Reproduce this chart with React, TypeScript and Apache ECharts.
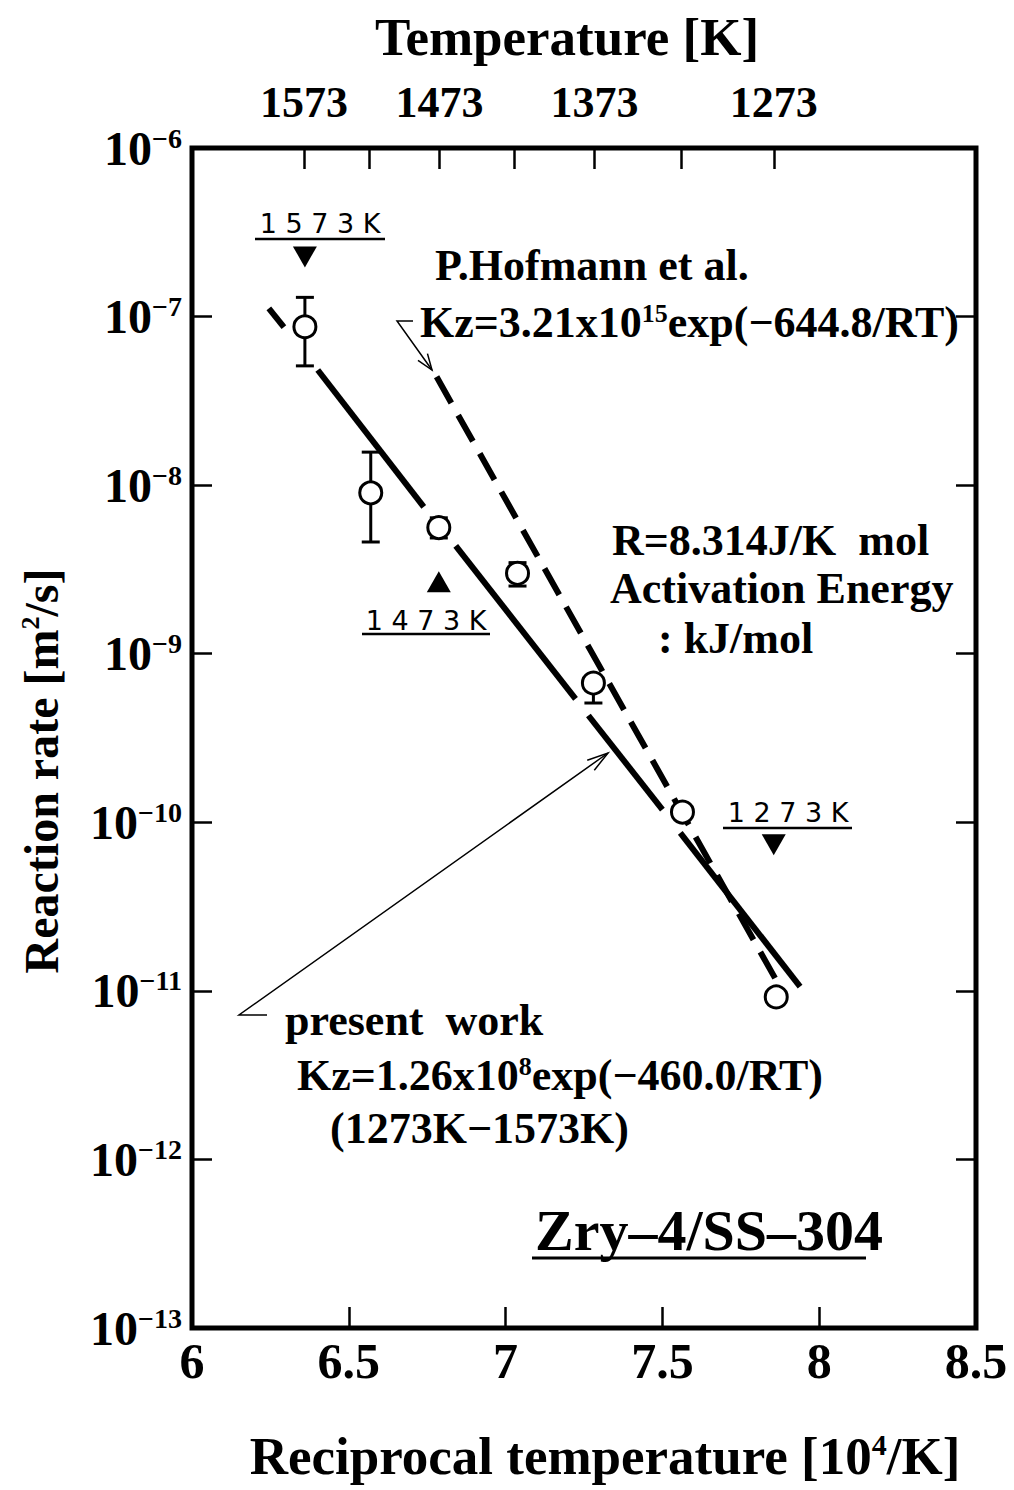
import React, { useEffect, useRef } from "react";
import * as echarts from "echarts";

// ---- data ----
// reciprocal temperature [10^4/K] and reaction rate [m^2/s] of measured points
const recipT = [6.36, 6.57, 6.787, 7.038, 7.28, 7.564, 7.863];
const rate = [8.7e-8, 9.0e-9, 5.6e-9, 3.0e-9, 6.7e-10, 1.15e-10, 9.2e-12];
const errHigh = [1.3e-7, 1.57e-8, 6.4e-9, 3.47e-9, null, null, null];
const errLow = [5.1e-8, 4.6e-9, 4.86e-9, 2.52e-9, 5.1e-10, null, null];

// triangles
const triDown = [
  [6.36, 2.26e-7],
  [7.855, 7.35e-11],
];
const triUp = [[6.787, 2.67e-9]];

// present work fit line (segments, broken around the markers)
const presentWorkSegments = [
  [[6.245, 1.12e-7], [6.293, 8.67e-8]],
  [[6.401, 4.82e-8], [6.739, 7.43e-9]],
  [[6.841, 4.36e-9], [7.223, 5.4e-10]],
  [[7.264, 4.3e-10], [7.5, 1.19e-10]],
  [[7.557, 8.65e-11], [7.939, 1.06e-11]],
];
// P.Hofmann et al. line
const hofmannLine = [[6.78, 4.39e-8], [7.866, 1.13e-11]];

// axis ticks
const tempTickK = [1573, 1523, 1473, 1423, 1373, 1323, 1273];
const tempLabelK = [1573, 1473, 1373, 1273];

const FONT = '"Liberation Serif", "Times New Roman", serif';
const SANS = '"DejaVu Sans", sans-serif';

function arrowHead(tip: number[], from: number[], len: number, ang: number) {
  const dx = tip[0] - from[0];
  const dy = tip[1] - from[1];
  const a = Math.atan2(dy, dx);
  const p1 = [tip[0] - len * Math.cos(a - ang), tip[1] - len * Math.sin(a - ang)];
  const p2 = [tip[0] - len * Math.cos(a + ang), tip[1] - len * Math.sin(a + ang)];
  return [p1, tip, p2];
}

function bold(size: number) {
  return { fontFamily: FONT, fontWeight: "bold", fontSize: size, fill: "#000" };
}

export default function App() {
  const ref = useRef<HTMLDivElement>(null);
  useEffect(() => {
    if (!ref.current) return;
    const chart = echarts.init(ref.current, null, { renderer: "svg" });

    const lineStyleTick = { color: "#000", width: 2.5 };
    const errorData = recipT
      .map((x, i) => [x, errLow[i] ?? rate[i], errHigh[i] ?? rate[i], rate[i]])
      .filter((d) => d[1] !== d[3] || d[2] !== d[3]);

    const supRich = (size: number) => ({
      sup: { fontFamily: FONT, fontWeight: "bold", fontSize: size, verticalAlign: "top", fill: "#000" },
    });

    const hofTip = [432, 370];
    const hofCorner = [397, 321];
    const pwTip = [608, 753];
    const pwCorner = [239, 1015];

    const graphic: any[] = [
      { type: "text", x: 567, y: 37, style: { text: "Temperature [K]", ...bold(53), align: "center", verticalAlign: "middle" } },
      {
        type: "text", x: 605, y: 1456,
        style: { text: "Reciprocal temperature [10{sup|4}/K]", ...bold(53), align: "center", verticalAlign: "middle", rich: supRich(30) },
      },
      {
        type: "text", x: 41, y: 771, rotation: Math.PI / 2,
        style: { text: "Reaction rate [m{sup|2}/s]", ...bold(48), align: "center", verticalAlign: "middle", rich: supRich(26) },
      },
      { type: "text", x: 435, y: 265, style: { text: "P.Hofmann et al.", ...bold(44), align: "left", verticalAlign: "middle" } },
      {
        type: "text", x: 420, y: 322,
        style: { text: "Kz=3.21x10{sup|15}exp(−644.8/RT)", ...bold(44), align: "left", verticalAlign: "middle", rich: supRich(26) },
      },
      { type: "text", x: 612, y: 540, style: { text: "R=8.314J/K  mol", ...bold(44), align: "left", verticalAlign: "middle" } },
      { type: "text", x: 610, y: 588, style: { text: "Activation Energy", ...bold(44), align: "left", verticalAlign: "middle" } },
      { type: "text", x: 658, y: 638, style: { text: ": kJ/mol", ...bold(44), align: "left", verticalAlign: "middle" } },
      { type: "text", x: 285, y: 1020, style: { text: "present  work", ...bold(44), align: "left", verticalAlign: "middle" } },
      {
        type: "text", x: 297, y: 1075,
        style: { text: "Kz=1.26x10{sup|8}exp(−460.0/RT)", ...bold(44), align: "left", verticalAlign: "middle", rich: supRich(26) },
      },
      { type: "text", x: 330, y: 1128, style: { text: "(1273K−1573K)", ...bold(44), align: "left", verticalAlign: "middle" } },
      { type: "text", x: 535, y: 1230, style: { text: "Zry–4/SS–304", ...bold(58), align: "left", verticalAlign: "middle" } },
      { type: "line", shape: { x1: 532, y1: 1258, x2: 866, y2: 1258 }, style: { stroke: "#000", lineWidth: 3 } },
      // temperature labels near triangles
      { type: "text", x: 320, y: 223, style: { text: "1 5 7 3 K", fontFamily: SANS, fontSize: 27, fill: "#000", align: "center", verticalAlign: "middle" } },
      { type: "line", shape: { x1: 255, y1: 239, x2: 385, y2: 239 }, style: { stroke: "#000", lineWidth: 2.5 } },
      { type: "text", x: 426, y: 620, style: { text: "1 4 7 3 K", fontFamily: SANS, fontSize: 27, fill: "#000", align: "center", verticalAlign: "middle" } },
      { type: "line", shape: { x1: 362, y1: 634, x2: 490, y2: 634 }, style: { stroke: "#000", lineWidth: 2.5 } },
      { type: "text", x: 788, y: 812, style: { text: "1 2 7 3 K", fontFamily: SANS, fontSize: 27, fill: "#000", align: "center", verticalAlign: "middle" } },
      { type: "line", shape: { x1: 723, y1: 828, x2: 852, y2: 828 }, style: { stroke: "#000", lineWidth: 2.5 } },
      // leaders
      { type: "polyline", shape: { points: [[413, 321], hofCorner, hofTip] }, style: { stroke: "#000", lineWidth: 1.5, fill: null } },
      { type: "polyline", shape: { points: arrowHead(hofTip, hofCorner, 17, 0.35) }, style: { stroke: "#000", lineWidth: 1.5, fill: null } },
      { type: "polyline", shape: { points: [[267, 1015], pwCorner, pwTip] }, style: { stroke: "#000", lineWidth: 1.5, fill: null } },
      { type: "polyline", shape: { points: arrowHead(pwTip, pwCorner, 22, 0.28) }, style: { stroke: "#000", lineWidth: 1.5, fill: null } },
    ];

    const option: any = {
      animation: false,
      backgroundColor: "#fff",
      grid: { left: 192, top: 148, width: 784, height: 1180, show: true, borderColor: "#000", borderWidth: 5 },
      xAxis: [
        {
          type: "value", min: 6, max: 8.5, interval: 0.5, position: "bottom",
          axisLine: { show: false },
          axisTick: { inside: true, length: 21, lineStyle: lineStyleTick },
          splitLine: { show: false },
          axisLabel: { color: "#000", fontFamily: FONT, fontWeight: "bold", fontSize: 50, margin: 8, showMinLabel: true, showMaxLabel: true },
        },
        {
          type: "value", min: 6, max: 8.5, position: "top",
          axisLine: { show: false },
          axisTick: { inside: true, length: 21, lineStyle: lineStyleTick, customValues: tempTickK.map((t) => 1e4 / t) },
          splitLine: { show: false },
          axisLabel: {
            customValues: tempLabelK.map((t) => 1e4 / t),
            formatter: (v: number) => String(Math.round(1e4 / v)),
            color: "#000", fontFamily: FONT, fontWeight: "bold", fontSize: 44, margin: 24,
          },
        },
      ],
      yAxis: [
        {
          type: "log", logBase: 10, min: 1e-13, max: 1e-6, splitNumber: 7, position: "left",
          axisLine: { show: false },
          axisTick: { inside: true, length: 20, lineStyle: lineStyleTick },
          splitLine: { show: false },
          minorTick: { show: false },
          axisLabel: {
            margin: 10, showMinLabel: true, showMaxLabel: true,
            formatter: (v: number) => `{b|10}{s|−${-Math.round(Math.log10(v))}}`,
            rich: {
              b: { fontFamily: FONT, fontWeight: "bold", fontSize: 48, color: "#000" },
              s: { fontFamily: FONT, fontWeight: "bold", fontSize: 28, color: "#000", verticalAlign: "top" },
            },
          },
        },
        {
          type: "log", logBase: 10, min: 1e-13, max: 1e-6, splitNumber: 7, position: "right",
          axisLine: { show: false },
          axisTick: { inside: true, length: 20, lineStyle: lineStyleTick },
          splitLine: { show: false },
          axisLabel: { show: false },
        },
      ],
      series: [
        {
          type: "custom", name: "error", xAxisIndex: 0, yAxisIndex: 0, z: 3,
          encode: { x: 0, y: [1, 2, 3] },
          data: errorData,
          renderItem: (params: any, api: any) => {
            const x = api.value(0);
            const lo = api.value(1);
            const hi = api.value(2);
            const c = api.value(3);
            const pLo = api.coord([x, lo]);
            const pHi = api.coord([x, hi]);
            const children: any[] = [
              { type: "line", shape: { x1: pHi[0], y1: pHi[1], x2: pLo[0], y2: pLo[1] }, style: { stroke: "#000", lineWidth: 3 } },
            ];
            const cap = 9;
            if (lo !== c) children.push({ type: "line", shape: { x1: pLo[0] - cap, y1: pLo[1], x2: pLo[0] + cap, y2: pLo[1] }, style: { stroke: "#000", lineWidth: 3 } });
            if (hi !== c) children.push({ type: "line", shape: { x1: pHi[0] - cap, y1: pHi[1], x2: pHi[0] + cap, y2: pHi[1] }, style: { stroke: "#000", lineWidth: 3 } });
            return { type: "group", children };
          },
        },
        {
          type: "lines", name: "present work", coordinateSystem: "cartesian2d", xAxisIndex: 0, yAxisIndex: 0, z: 2,
          data: presentWorkSegments.map((s) => ({ coords: s })),
          lineStyle: { color: "#000", width: 6, type: "solid", cap: "butt", opacity: 1 },
        },
        {
          type: "lines", name: "P.Hofmann et al.", coordinateSystem: "cartesian2d", xAxisIndex: 0, yAxisIndex: 0, z: 2,
          data: [{ coords: hofmannLine }],
          lineStyle: { color: "#000", width: 6, type: [30, 14], cap: "butt", opacity: 1 },
        },
        {
          type: "scatter", name: "measured", xAxisIndex: 0, yAxisIndex: 0, z: 5,
          symbol: "circle", symbolSize: 22,
          itemStyle: { color: "#fff", borderColor: "#000", borderWidth: 3, opacity: 1 },
          data: recipT.map((x, i) => [x, rate[i]]),
        },
        {
          type: "scatter", name: "down", xAxisIndex: 0, yAxisIndex: 0, z: 5,
          symbol: "triangle", symbolSize: [24, 21], symbolRotate: 180,
          itemStyle: { color: "#000", opacity: 1 },
          data: triDown,
        },
        {
          type: "scatter", name: "up", xAxisIndex: 0, yAxisIndex: 0, z: 5,
          symbol: "triangle", symbolSize: [24, 21],
          itemStyle: { color: "#000", opacity: 1 },
          data: triUp,
        },
      ],
      graphic,
    };
    chart.setOption(option);
    return () => chart.dispose();
  }, []);
  return <div ref={ref} style={{ position: "fixed", left: 0, top: 0, width: 1014, height: 1490, background: "#fff" }} />;
}
